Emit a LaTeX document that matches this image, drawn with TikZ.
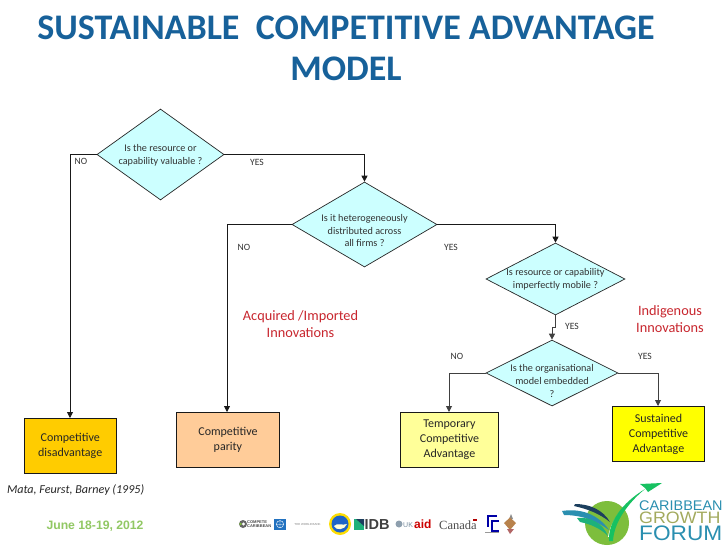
\documentclass[tikz,border=0pt]{standalone}
\usepackage{fontspec}
\setmainfont{Carlito}
\newfontfamily\arialf{Liberation Sans}
\newfontfamily\timesf{Liberation Serif}
\usetikzlibrary{shapes.geometric,arrows.meta}
\definecolor{titleblue}{HTML}{17619A}
\definecolor{diam}{HTML}{CCFFFF}
\definecolor{innov}{HTML}{C8262E}
\definecolor{logoteal}{HTML}{2A8FB0}
\definecolor{logoolive}{HTML}{A3AA5E}
\definecolor{logogreen}{HTML}{7DBE3C}
\definecolor{logonavy}{HTML}{1C3F5E}
\definecolor{resA}{HTML}{FFCC00}
\definecolor{resB}{HTML}{FFCC99}
\definecolor{resC}{HTML}{FFFF99}
\definecolor{resD}{HTML}{FFFF00}
\tikzset{
  dec/.style={diamond,draw=black!85,line width=.7pt,fill=diam,inner sep=0pt},
  qtext/.style={font=\fontsize{10.2}{12.6}\selectfont,align=center,text=black!80},
  res/.style={draw=black!90,line width=.9pt,font=\fontsize{12}{15}\selectfont,align=center,text=black!85,anchor=north west},
  tag/.style={font=\fontsize{9.6}{12}\selectfont,text=black!80},
  innovtext/.style={font=\fontsize{14.3}{16.5}\selectfont,align=center,text=innov},
  flow/.style={draw=black!90,line width=.8pt,-{Triangle[length=6pt,width=6pt]}},
  flowb/.style={draw=black!75,line width=.95pt,-{Triangle[length=6pt,width=6pt]}},
  logotext/.style={inner sep=0pt,anchor=base west},
}
\begin{document}
\begin{tikzpicture}[x=1pt,y=-1pt]
\useasboundingbox (0,0) rectangle (728,546);
\fill[white] (0,0) rectangle (728,546);
% title
\node[font=\fontsize{36}{41}\selectfont\bfseries,text=titleblue,align=center] (title) at (346,48) {SUSTAINABLE\ \ COMPETITIVE ADVANTAGE\\MODEL};
% decisions
\node[dec,minimum width=127pt,minimum height=91pt,aspect=1.4,label={[qtext,yshift=-1pt]center:Is the resource or\\capability valuable ?}] (d1) at (160.5,154.5) {};
\node[dec,minimum width=145pt,minimum height=85pt,aspect=1.7,label={[qtext,yshift=-6pt]center:Is it heterogeneously\\distributed across\\all firms ?}] (d2) at (364.5,224.5) {};
\node[dec,minimum width=139pt,minimum height=72pt,aspect=1.93,label={[qtext]center:Is resource or capability\\imperfectly mobile ?}] (d3) at (555.5,279) {};
\node[dec,minimum width=132pt,minimum height=66pt,aspect=2,label={[qtext,yshift=-8pt]center:Is the organisational\\model embedded\\?}] (d4) at (552,373) {};
% results
\node[res,fill=resA,minimum width=91.5pt,minimum height=55pt] (r1) at (24,418) {Competitive\\disadvantage};
\node[res,fill=resB,minimum width=103pt,minimum height=55pt] (r2) at (176,412) {Competitive\\parity};
\node[res,fill=resC,minimum width=98pt,minimum height=55pt] (r3) at (400,412) {Temporary\\Competitive\\Advantage};
\node[res,fill=resD,minimum width=92pt,minimum height=55pt] (r4) at (612,406) {Sustained\\Competitive\\Advantage};
% connectors
\draw[flow] (d1.west) -| (r1.north-|70,0);
\draw[flow] (d1.east) -| (d2.north);
\draw[flow] (d2.west) -| (r2.north-|227,0);
\draw[flow] (d2.east) -| (d3.north);
\coordinate (jog1) at (555.5,327);
\coordinate (jog2) at (552,327);
\draw[flowb] (d3.south) -- (jog1) -- (jog2) -- (d4.north);
\draw[flowb] (d4.west) -| (r3.north-|449,0);
\draw[flowb] (d4.east) -| (r4.north-|658,0);
% branch labels
\node[tag] (l1) at (81,161.5) {NO};
\node[tag] (l2) at (257,162) {YES};
\node[tag] (l3) at (244,247) {NO};
\node[tag] (l4) at (451,247) {YES};
\node[tag] (l5) at (572,326) {YES};
\node[tag] (l6) at (457,356) {NO};
\node[tag] (l7) at (645,356) {YES};
% red labels
\node[innovtext] (a1) at (300.5,324) {Acquired /Imported\\Innovations};
\node[innovtext] (a2) at (670,319) {Indigenous\\Innovations};
% citation
\node[font=\fontsize{12.1}{14}\selectfont\itshape,text=black!85,anchor=west] (cite) at (3.5,490.5) {Mata, Feurst, Barney (1995)};
% date
\node[font=\arialf\bfseries\fontsize{12.2}{14}\selectfont,text={rgb,255:red,146;green,200;blue,100},anchor=west] (date) at (43,526) {June 18-19, 2012};
% sponsor strip
\fill[black!60] (243,524) circle (4pt);
\fill[white] (243.5,524) circle (1.6pt);
\fill[logogreen] (240.5,524) circle (1.4pt);
\node[font=\arialf\bfseries\fontsize{4}{4.4}\selectfont,text=black!70,align=left,inner sep=0pt,anchor=west] (compete) at (247,524) {COMPETE\\CARIBBEAN};
\fill[logoteal!80!blue] (274,518.5) rectangle (286,530);
\draw[white,line width=.4pt] (280,524.2) circle (3.6pt) (276.4,524.2)--(283.6,524.2) (280,520.6)--(280,527.8);
\node[font=\arialf\fontsize{2.9}{3}\selectfont,text=black!50,inner sep=0pt] (wb) at (307.5,524.5) {THE WORLD BANK};
\fill[yellow!80!orange] (340,524) circle (11pt);
\fill[logoteal!70!blue] (340,524) circle (8.5pt);
\fill[white!85!yellow] (334,526) .. controls (338,522) and (342,526) .. (347,524) .. controls (345,530) and (336,531) .. (334,526);
\fill[logoteal!70!green] (354,519) rectangle (364,530);
\fill[logonavy] (356,519) -- (364,519) -- (364,526) -- cycle;
\node[font=\arialf\bfseries\fontsize{14.5}{14.5}\selectfont,text=black!75,inner sep=0pt,anchor=west] (idb) at (364.5,524.5) {IDB};
\fill[logonavy!50!white] (399,524) circle (3.5pt);
\node[font=\arialf\fontsize{7}{7}\selectfont,text=logonavy!60!white,inner sep=0pt,anchor=west] (uk) at (403,525.5) {UK};
\node[font=\arialf\bfseries\fontsize{12}{12}\selectfont,text=red!80!black,inner sep=0pt,anchor=west] (aid) at (414,524) {aid};
\node[font=\timesf\fontsize{12.5}{12.5}\selectfont,text=black!70,inner sep=0pt,anchor=west] (canada) at (439,525) {Canada};
\fill[red!70!black] (473,518.5) rectangle (477,520.5);
\draw[blue!65!black,line width=1.6pt] (497,516) -- (488,516) -- (488,527);
\draw[blue!65!black,line width=1.6pt] (499,521) -- (492,521) -- (492,531) -- (499,531);
\draw[black!40,line width=.8pt] (485,532.5) -- (499,532.5);
% crest
\fill[black!45] (511,514) -- (513,519) -- (509,519) -- cycle;
\fill[orange!60!black!70] (504,523) -- (510,517.5) -- (516,523) -- (510,530) -- cycle;
\fill[red!50!black!60] (507,529) -- (510,534) -- (514,529) -- cycle;
% growth-forum emblem
\fill[logogreen] (607,523) circle (22pt);
\fill[logonavy] (575,504) .. controls (590,504) and (603,510) .. (610,522) .. controls (600,514) and (588,509) .. (574,506) -- cycle;
\fill[logoteal] (562,511) .. controls (580,508) and (598,514) .. (609,530) .. controls (597,521) and (582,515) .. (564,515) -- cycle;
\fill[logoteal!70!green] (577,518) .. controls (590,517) and (602,522) .. (608,536) .. controls (600,528) and (590,524) .. (580,522) -- cycle;
\draw[white,line width=2pt] (609,537) .. controls (612,520) and (625,503) .. (645,490);
\fill[logoteal!55!green] (609,541) .. controls (608,522) and (622,503) .. (645,489) .. controls (628,503) and (614,522) .. (613,541) -- cycle;
\fill[logoteal!55!green] (640,484) -- (662,483) -- (648,492) -- (645,488) -- cycle;
\node[font=\arialf,logotext] (forum) at (639,540) {%
  \makebox[0pt][l]{\raisebox{30pt}{\fontsize{14}{14}\selectfont\textcolor{logoteal}{\scalebox{1.03}[1]{CARIBBEAN}}}}%
  \makebox[0pt][l]{\raisebox{16.5pt}{\fontsize{16.5}{16.5}\selectfont\textcolor{logoolive}{\scalebox{1.08}[1]{GROWTH}}}}%
  \fontsize{21}{21}\selectfont\textcolor{logoteal}{\scalebox{1.08}[1]{FORUM}}};
\end{tikzpicture}
\end{document}
